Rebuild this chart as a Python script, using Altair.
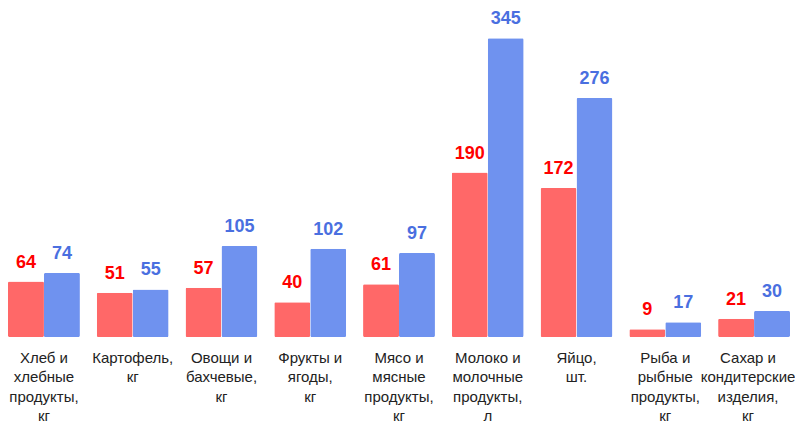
import altair as alt
import pandas as pd

categories = [
    "Хлеб и|хлебные|продукты,|кг",
    "Картофель,|кг",
    "Овощи и|бахчевые,|кг",
    "Фрукты и|ягоды,|кг",
    "Мясо и|мясные|продукты,|кг",
    "Молоко и|молочные|продукты,|л",
    "Яйцо,|шт.",
    "Рыба и|рыбные|продукты,|кг",
    "Сахар и|кондитерские|изделия,|кг",
]
series_names = ["Серия 1", "Серия 2"]
values_1 = [64, 51, 57, 40, 61, 190, 172, 9, 21]
values_2 = [74, 55, 105, 102, 97, 345, 276, 17, 30]

rows = []
for c, a, b in zip(categories, values_1, values_2):
    rows.append({"cat": c, "series": series_names[0], "value": a})
    rows.append({"cat": c, "series": series_names[1], "value": b})
df = pd.DataFrame(rows)

bar_colors = ["#ff6868", "#6f92ef"]
text_colors = ["#ff0000", "#4a6fe0"]
font = "Liberation Sans"

x = alt.X("cat:N", sort=categories, title=None,
          scale=alt.Scale(paddingInner=0.19, paddingOuter=0),
          axis=alt.Axis(labelExpr="split(datum.label, '|')", labelAngle=0,
                        domain=False, ticks=False, labelPadding=13,
                        labelFontSize=15, labelFont=font, labelColor="#222222",
                        labelLineHeight=19.5, labelLimit=200,
                        labelOffset={"condition": {"test": "indexof(datum.value, 'Сахар') === 0",
                                                   "value": -6},
                                     "value": 0}))
xo = alt.XOffset("series:N", sort=series_names,
                 scale=alt.Scale(paddingInner=0, paddingOuter=0))
y = alt.Y("value:Q", title=None, axis=None,
          scale=alt.Scale(domain=[0, 380], nice=False))

base = alt.Chart(df).encode(x=x, xOffset=xo, y=y)

bars = base.mark_bar(cornerRadius=1.5).encode(
    color=alt.Color("series:N", sort=series_names, legend=None,
                    scale=alt.Scale(domain=series_names, range=bar_colors))
)
labels = base.mark_text(baseline="bottom", dy=-10, fontSize=18,
                        fontWeight="bold", font=font).encode(
    text="value:Q",
    color=alt.Color("series:N", sort=series_names, legend=None,
                    scale=alt.Scale(domain=series_names, range=text_colors))
)

chart = alt.layer(bars, labels).resolve_scale(color="independent").properties(
    width=782, height=329,
    autosize=alt.AutoSizeParams(type="none"),
    padding={"left": 0, "top": 0, "right": 5, "bottom": 86}
).configure_view(stroke=None)

chart.save("out.html", embed_options={"renderer": "svg", "actions": False})
